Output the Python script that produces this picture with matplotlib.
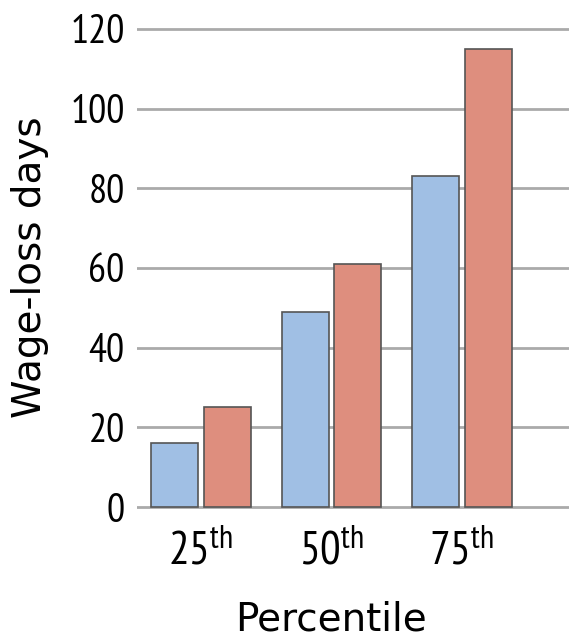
import matplotlib
matplotlib.use("Agg")
import matplotlib.pyplot as plt
import numpy as np

# data
percentiles = ["25", "50", "75"]
blue_days = [16, 49, 83]
red_days = [25, 61, 115]
y_ticks = [0, 20, 40, 60, 80, 100, 120]

# narrow font for the tick numbers, wider one for axis titles
plt.rcParams['font.family'] = ['PT Sans Narrow', 'DejaVu Sans']
plt.rcParams['mathtext.fontset'] = 'custom'
plt.rcParams['mathtext.rm'] = 'PT Sans Narrow'
plt.rcParams['mathtext.default'] = 'regular'

fig = plt.figure(figsize=(5.69, 6.38), dpi=100)
ax = fig.add_axes([0.2408, 0.2022, 0.7592, 0.7586])

x = np.arange(len(percentiles))
ax.bar(x - 0.2, blue_days, width=0.36, color='#A0BFE4', edgecolor='#555555', linewidth=1.2, zorder=3)
ax.bar(x + 0.2, red_days, width=0.36, color='#DE8E7E', edgecolor='#555555', linewidth=1.2, zorder=3)

ax.set_xlim(-0.49, 2.82)
ax.set_ylim(-0.5, 121)
ax.set_yticks(y_ticks)
ax.set_yticklabels([str(v) for v in y_ticks])
ax.set_xticks(x)
ax.set_xticklabels([p + r"$^{th}$" for p in percentiles])
ax.tick_params(axis='both', length=0, colors='black')
ax.tick_params(axis='y', pad=9, labelsize=29)
ax.tick_params(axis='x', pad=15, labelsize=33)

ax.yaxis.grid(True, color='#AAAAAA', linewidth=2, zorder=0)
ax.set_axisbelow(True)
for s in ax.spines.values():
    s.set_visible(False)

ax.set_ylabel("Wage-loss days", fontsize=28, family='DejaVu Sans')
ax.set_xlabel("Percentile", fontsize=28, family='DejaVu Sans')
# centre the x label on the middle group
xfrac = (1 - (-0.49)) / (2.82 - (-0.49))
ax.xaxis.set_label_coords(xfrac, -0.19)
ax.yaxis.set_label_coords(-0.203, 0.5)

fig.savefig("out.png", dpi=100)
